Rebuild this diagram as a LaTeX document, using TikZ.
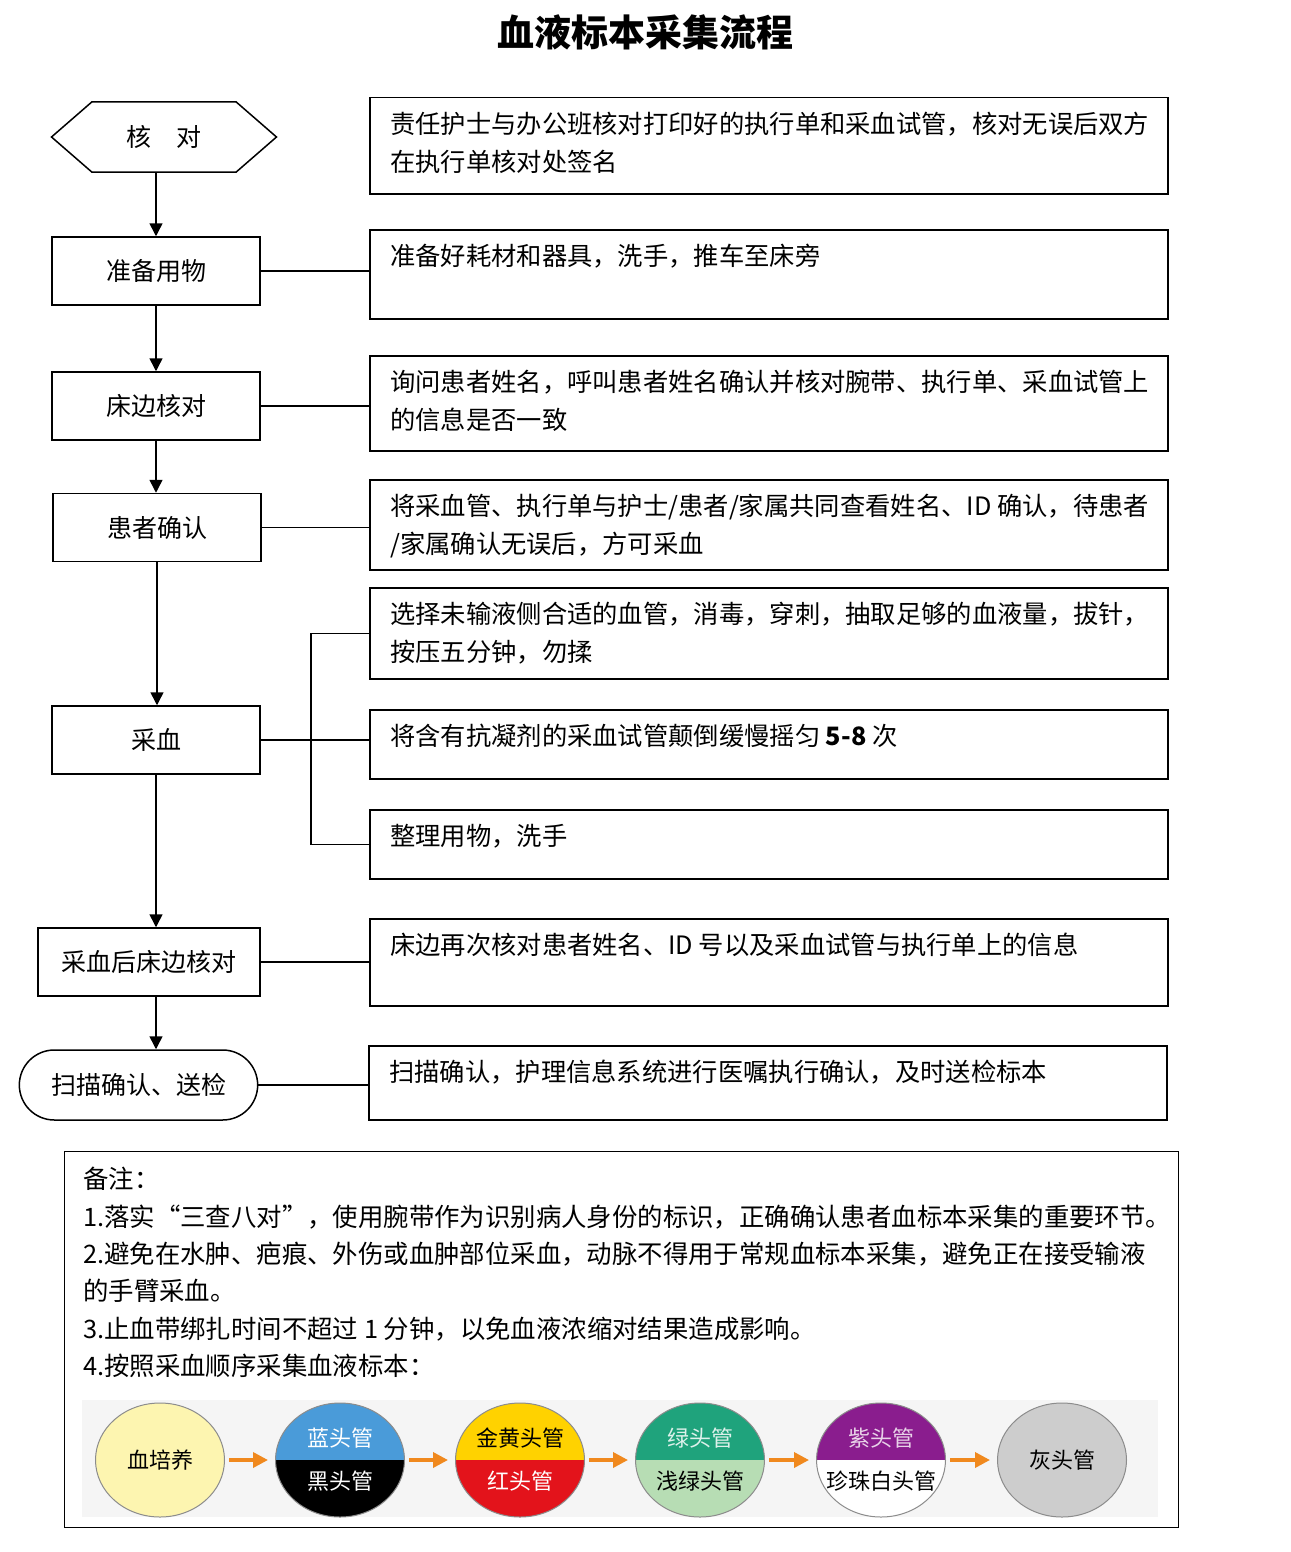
\documentclass[tikz,border=0pt]{standalone}
\usepackage{fontspec}
\setmainfont{Noto Sans CJK SC}
\usetikzlibrary{calc, shapes, arrows, arrows.meta}

\definecolor{tubeyellow}{HTML}{FDF5B0}
\definecolor{tubeblue}{HTML}{4A9BD9}
\definecolor{tubegold}{HTML}{FFD200}
\definecolor{tubered}{HTML}{E3131B}
\definecolor{tubegreen}{HTML}{1FA37C}
\definecolor{tubelightgreen}{HTML}{B7DDB4}
\definecolor{tubepurple}{HTML}{8A1D8E}
\definecolor{tubegray}{HTML}{CDCDCD}
\definecolor{arroworange}{HTML}{F0891E}

\begin{document}
\begin{tikzpicture}[x=1pt,y=-1pt]
\tikzstyle{line} = [draw, line width=1.5pt, -{Triangle[length=13pt,width=13pt]}]
\tikzstyle{link} = [draw, line width=1.5pt]
\tikzstyle{stage}=[rectangle,draw,line width=1.5pt,minimum width=208pt,minimum height=68pt,font=\fontsize{25}{30}\selectfont]
\tikzstyle{descbox}=[rectangle,draw,line width=1.5pt,minimum width=798pt,anchor=north west,inner sep=0pt]
\tikzstyle{desc}=[anchor=north west,align=left,inner sep=0pt,font=\fontsize{25.3}{37.4}\selectfont]
\tikzstyle{tube}=[ellipse,draw=black!45,line width=1pt,minimum width=129pt,minimum height=114pt,inner sep=0pt]
\tikzstyle{tubetext}=[font=\fontsize{22}{26}\selectfont]
\tikzstyle{order}=[draw=arroworange,line width=3.5pt,shorten <=4pt,shorten >=7pt,-{Triangle[length=15pt,width=15pt]}]

\useasboundingbox[fill=white] (0,0) rectangle (1290,1552);

\node[font=\fontsize{37}{40}\selectfont\bfseries] (title) at (645,32) {血液标本采集流程};

% left column
\node[signal,signal to=east and west,signal pointer angle=82,draw,line width=1.5pt,
  minimum width=225pt,minimum height=70pt,font=\fontsize{25}{30}\selectfont] (check) at (164,137) {核　对};
\node[stage] (prep) at (156,271) {准备用物};
\node[stage] (bedside) at (156,406) {床边核对};
\node[stage] (confirm) at (157,527.5) {患者确认};
\node[stage] (collect) at (156,740) {采血};
\node[stage,minimum width=222pt] (recheck) at (149,962) {采血后床边核对};
\node[rounded rectangle,draw,line width=1.5pt,minimum width=245pt,minimum height=70pt,
  font=\fontsize{25}{30}\selectfont] (scan) at (138.5,1085) {扫描确认、送检};

% right column
\node[descbox,minimum height=96pt] (d1) at (369,97) {};
\node[descbox,minimum height=89pt] (d2) at (369,229) {};
\node[descbox,minimum height=95pt] (d3) at (369,355) {};
\node[descbox,minimum height=90pt] (d4) at (369,479) {};
\node[descbox,minimum height=91pt] (d5) at (369,587) {};
\node[descbox,minimum height=69pt] (d6) at (369,709) {};
\node[descbox,minimum height=69pt] (d7) at (369,809) {};
\node[descbox,minimum height=87pt] (d8) at (369,918) {};
\node[descbox,minimum height=74pt] (d9) at (368,1045) {};

\node[desc] (t1) at ($(d1.north west)+(21,15)$) {责任护士与办公班核对打印好的执行单和采血试管，核对无误后双方\\在执行单核对处签名};
\node[desc] (t2) at ($(d2.north west)+(21,15)$) {准备好耗材和器具，洗手，推车至床旁};
\node[desc] (t3) at ($(d3.north west)+(21,15)$) {询问患者姓名，呼叫患者姓名确认并核对腕带、执行单、采血试管上\\的信息是否一致};
\node[desc] (t4) at ($(d4.north west)+(21,15)$) {将采血管、执行单与护士/患者/家属共同查看姓名、ID 确认，待患者\\/家属确认无误后，方可采血};
\node[desc] (t5) at ($(d5.north west)+(21,15)$) {选择未输液侧合适的血管，消毒，穿刺，抽取足够的血液量，拔针，\\按压五分钟，勿揉};
\node[desc] (t6) at ($(d6.north west)+(21,15)$) {将含有抗凝剂的采血试管颠倒缓慢摇匀 \textbf{5-8} 次};
\node[desc] (t7) at ($(d7.north west)+(21,15)$) {整理用物，洗手};
\node[desc] (t8) at ($(d8.north west)+(21,15)$) {床边再次核对患者姓名、ID 号以及采血试管与执行单上的信息};
\node[desc] (t9) at ($(d9.north west)+(21,15)$) {扫描确认，护理信息系统进行医嘱执行确认，及时送检标本};

% flow
\path [line] (prep.north |- check.south) -- (prep.north);
\path [line] (prep) -- (bedside);
\path [line] (bedside.south) -- (bedside.south |- confirm.north);
\path [line] (confirm.south) -- (confirm.south |- collect.north);
\path [line] (collect.south) -- (collect.south |- recheck.north);
\path [line] (collect.south |- recheck.south) -- (collect.south |- scan.north);

\path [link] (prep.east) -- (prep.east -| d2.west);
\path [link] (bedside.east) -- (bedside.east -| d3.west);
\path [link] (confirm.east) -- (confirm.east -| d4.west);
\path [link] (collect.east) -- (collect.east -| d6.west);
\coordinate (fork) at (311,740);
\path [link] (d5.west) -| (fork) |- (d7.west);
\path [link] (recheck.east) -- (recheck.east -| d8.west);
\path [link] (scan.east) -- (scan.east -| d9.west);

% notes
\node[draw,line width=1.3pt,minimum width=1114pt,minimum height=376pt,anchor=north west,inner sep=0pt] (notes) at (64,1151) {};
\node[desc,font=\fontsize{25.4}{37.4}\selectfont] (notetext) at (83,1167) {备注：\\
1.落实“三查八对”，使用腕带作为识别病人身份的标识，正确确认患者血标本采集的重要环节。\\
2.避免在水肿、疤痕、外伤或血肿部位采血，动脉不得用于常规血标本采集，避免正在接受输液\\
的手臂采血。\\
3.止血带绑扎时间不超过 1 分钟，以免血液浓缩对结果造成影响。\\
4.按照采血顺序采集血液标本：};

% tube order
\fill[black!4] (82,1400) rectangle (1158,1517);

\begin{scope}
\clip (340,1460) ellipse [x radius=64.5, y radius=57];
\fill[tubeblue] (270,1395) rectangle (410,1460);
\fill[black] (270,1460) rectangle (410,1525);
\end{scope}
\begin{scope}
\clip (520,1460) ellipse [x radius=64.5, y radius=57];
\fill[tubegold] (450,1395) rectangle (590,1460);
\fill[tubered] (450,1460) rectangle (590,1525);
\end{scope}
\begin{scope}
\clip (700,1460) ellipse [x radius=64.5, y radius=57];
\fill[tubegreen] (630,1395) rectangle (770,1460);
\fill[tubelightgreen] (630,1460) rectangle (770,1525);
\end{scope}
\begin{scope}
\clip (881,1460) ellipse [x radius=64.5, y radius=57];
\fill[tubepurple] (811,1395) rectangle (951,1460);
\fill[white] (811,1460) rectangle (951,1525);
\end{scope}

\node[tube,fill=tubeyellow] (culture) at (160,1460) {};
\node[tube] (blue) at (340,1460) {};
\node[tube] (gold) at (520,1460) {};
\node[tube] (green) at (700,1460) {};
\node[tube] (purple) at (881,1460) {};
\node[tube,fill=tubegray] (gray) at (1062,1460) {};

\node[tubetext] at (culture) {血培养};
\node[tubetext,text=white] at (340,1438) {蓝头管};
\node[tubetext,text=white] at (340,1481) {黑头管};
\node[tubetext] at (520,1438) {金黄头管};
\node[tubetext,text=white] at (520,1481) {红头管};
\node[tubetext,text=white!85!tubegreen] at (700,1438) {绿头管};
\node[tubetext] at (700,1481) {浅绿头管};
\node[tubetext,text=white!80!tubepurple] at (881,1438) {紫头管};
\node[tubetext] at (881,1481) {珍珠白头管};
\node[tubetext] at (gray) {灰头管};

\path [order] (culture.east) -- (blue.west);
\path [order] (blue.east) -- (gold.west);
\path [order] (gold.east) -- (green.west);
\path [order] (green.east) -- (purple.west);
\path [order] (purple.east) -- (gray.west);

\end{tikzpicture}
\end{document}
